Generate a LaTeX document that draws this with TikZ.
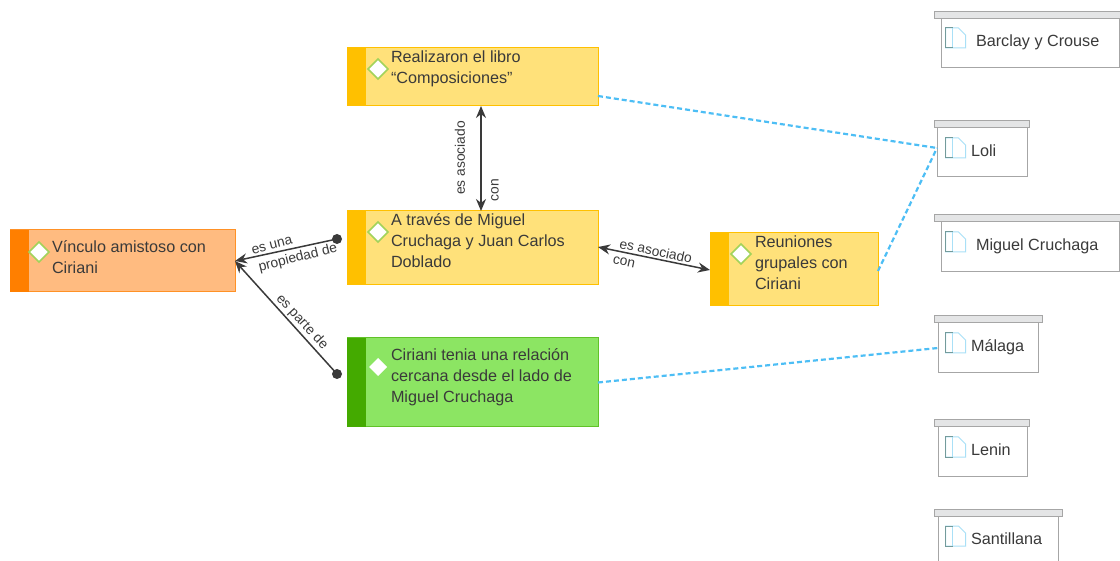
\documentclass[tikz,border=0pt]{standalone}
\usepackage{fontspec}
\setmainfont{Liberation Sans}
\usetikzlibrary{arrows.meta}
\definecolor{ink}{HTML}{3A3A3A}
\definecolor{yelFill}{HTML}{FFE17A}
\definecolor{yelEdge}{HTML}{FFC000}
\definecolor{grnFill}{HTML}{8CE563}
\definecolor{grnEdge}{HTML}{44AA00}
\definecolor{orgFill}{HTML}{FFBB80}
\definecolor{orgEdge}{HTML}{FF7F00}
\definecolor{dashBlue}{HTML}{4DBEF5}
\definecolor{frame}{HTML}{A6A6A6}
\definecolor{tabFill}{HTML}{E4E5E6}
\definecolor{lightBlue}{HTML}{A9E0F7}
\definecolor{diaGreen}{HTML}{A2D35A}
\tikzset{
  x=1pt,y=-1pt,
  every node/.style={inner sep=0pt,outer sep=0pt,text=ink,font=\fontsize{16.2}{21}\selectfont},
  conceptbox/.style={draw,line width=1pt,rectangle,anchor=north west,align=left},
  stripe/.style={rectangle,anchor=north west,minimum width=19pt},
  diam/.style={diamond,draw=diaGreen,fill=white,line width=1.5pt,minimum width=20pt,minimum height=20pt},
  diamplain/.style={diamond,fill=white,minimum width=18pt,minimum height=18pt},
  tabbar/.style={rectangle,draw=frame,fill=tabFill,line width=1pt,anchor=north west,minimum height=7pt},
  folder/.style={rectangle,draw=frame,fill=white,line width=1pt,anchor=north west},
  itemtext/.style={anchor=west,font=\fontsize{16.2}{21}\selectfont},
  lbl/.style={font=\fontsize{13.8}{16}\selectfont},
  rel/.style={draw=ink,line width=1.5pt},
  dashlink/.style={draw=dashBlue,line width=2.2pt,dash pattern=on 5pt off 3pt},
  dot/.style={circle,fill=ink,minimum size=10pt},
  tip/.style={Stealth[length=12pt,width=10pt]},
}
\usetikzlibrary{shapes.geometric}
\newcommand{\docicon}[2]{%
  \draw[lightBlue,line width=1pt] (#1,#2) -- (#1+13,#2) -- (#1+20,#2+7) -- (#1+20,#2+20) -- (#1,#2+20) -- cycle;
  \draw[lightBlue,line width=1pt] (#1+7,#2) -- (#1+7,#2+20);
  \draw[frame!70!teal,line width=1pt] (#1+7,#2) -- (#1,#2) -- (#1,#2+20) -- (#1+7,#2+20);
}
\begin{document}
\begin{tikzpicture}
\useasboundingbox (0,0) rectangle (1120,561);
% concept boxes
\node[conceptbox,draw=yelEdge,fill=yelFill,minimum width=251pt,minimum height=58pt] (A) at (347,48) {};
\node[stripe,fill=yelEdge,minimum height=58pt] (As) at (347,48) {};
\node[diam] (Ad) at (378,69) {};
\node[anchor=north west,align=left] (At) at (391,50.5) {Realizaron el libro\\“Composiciones”};

\node[conceptbox,draw=yelEdge,fill=yelFill,minimum width=251pt,minimum height=74pt] (B) at (347,211) {};
\node[stripe,fill=yelEdge,minimum height=74pt] (Bs) at (347,211) {};
\node[diam] (Bd) at (378,232) {};
\node[anchor=north west,align=left] (Bt) at (391,214) {A través de Miguel\\Cruchaga y Juan Carlos\\Doblado};

\node[conceptbox,draw=yelEdge,fill=yelFill,minimum width=168pt,minimum height=73pt] (C) at (710,233) {};
\node[stripe,fill=yelEdge,minimum height=73pt] (Cs) at (710,233) {};
\node[diam] (Cd) at (741,254) {};
\node[anchor=north west,align=left] (Ct) at (755,236) {Reuniones\\grupales con\\Ciriani};

\node[conceptbox,draw=grnEdge!60!grnFill,fill=grnFill,minimum width=251pt,minimum height=89pt] (D) at (347,338) {};
\node[stripe,fill=grnEdge,minimum height=89pt] (Ds) at (347,338) {};
\node[diamplain] (Dd) at (378,367) {};
\node[anchor=north west,align=left] (Dt) at (391,349) {Ciriani tenia una relación\\cercana desde el lado de\\Miguel Cruchaga};

\node[conceptbox,draw=orgEdge!70!orgFill,fill=orgFill,minimum width=225pt,minimum height=62pt] (E) at (10,230) {};
\node[stripe,fill=orgEdge,minimum height=62pt] (Es) at (10,230) {};
\node[diam] (Ed) at (39,252) {};
\node[anchor=north west,align=left] (Et) at (52,241) {Vínculo amistoso con\\Ciriani};

% folders
\node[folder,minimum width=178pt,minimum height=49pt] (F1) at (941,19) {};
\node[tabbar,minimum width=187pt] (F1t) at (934,12) {};
\docicon{945.5}{28}
\node[itemtext] (F1l) at (976,42) {Barclay y Crouse};

\node[folder,minimum width=90pt,minimum height=49pt] (F2) at (937,128) {};
\node[tabbar,minimum width=95pt] (F2t) at (934,121) {};
\docicon{945.5}{138}
\node[itemtext] (F2l) at (971,151) {Loli};

\node[folder,minimum width=178pt,minimum height=50pt] (F3) at (941,222) {};
\node[tabbar,minimum width=187pt] (F3t) at (934,215) {};
\docicon{945.5}{232}
\node[itemtext] (F3l) at (976,246) {Miguel Cruchaga};

\node[folder,minimum width=100pt,minimum height=50pt] (F4) at (938,323) {};
\node[tabbar,minimum width=108pt] (F4t) at (934,316) {};
\docicon{945.5}{333}
\node[itemtext] (F4l) at (971,347) {Málaga};

\node[folder,minimum width=89pt,minimum height=49pt] (F5) at (938,427) {};
\node[tabbar,minimum width=95pt] (F5t) at (934,420) {};
\docicon{945.5}{437}
\node[itemtext] (F5l) at (971,450) {Lenin};

\node[folder,minimum width=120pt,minimum height=50pt] (F6) at (938,516) {};
\node[tabbar,minimum width=128pt] (F6t) at (934,509) {};
\docicon{945.5}{526}
\node[itemtext] (F6l) at (971,539) {Santillana};

% dashed links
\draw[dashlink] ([yshift=-19pt]A.east) -- ([yshift=4.5pt]F2.west);
\draw[dashlink] ([yshift=-1.5pt]C.east) -- ([yshift=4.5pt]F2.west);
\draw[dashlink] ([yshift=0pt]D.east) -- ([yshift=0pt]F4.west);

% relations
\coordinate (Ehub) at (E.east);
\node[dot] (dot1) at (337,239) {};
\node[dot] (dot2) at (337,374) {};
\draw[rel,{Stealth[length=12pt,width=10pt]}-{Stealth[length=12pt,width=10pt]}] ([xshift=8.5pt]A.south) -- ([xshift=8.5pt]B.north);
\draw[rel,{Stealth[length=12pt,width=10pt]}-{Stealth[length=12pt,width=10pt]}] ([yshift=1pt]B.east) -- ([yshift=-0.5pt]C.west);
\draw[rel,-{Stealth[length=12pt,width=10pt]}] (dot1.center) -- (Ehub);
\draw[rel,-{Stealth[length=12pt,width=10pt]}] (dot2.center) -- (Ehub);

% labels
\node[lbl,rotate=90] (l1) at (460,158) {es asociado};
\node[lbl,rotate=90] (l2) at (495,190) {con};
\node[lbl,rotate=14] (l3) at (272,245.5) {es una};
\node[lbl,rotate=14] (l4) at (298,258) {propiedad de};
\node[lbl,rotate=-47] (l5) at (302,322) {es parte de};
\node[lbl,rotate=-12] (l6) at (656,251) {es asociado};
\node[lbl,rotate=-12] (l7) at (624,262) {con};
\end{tikzpicture}
\end{document}
